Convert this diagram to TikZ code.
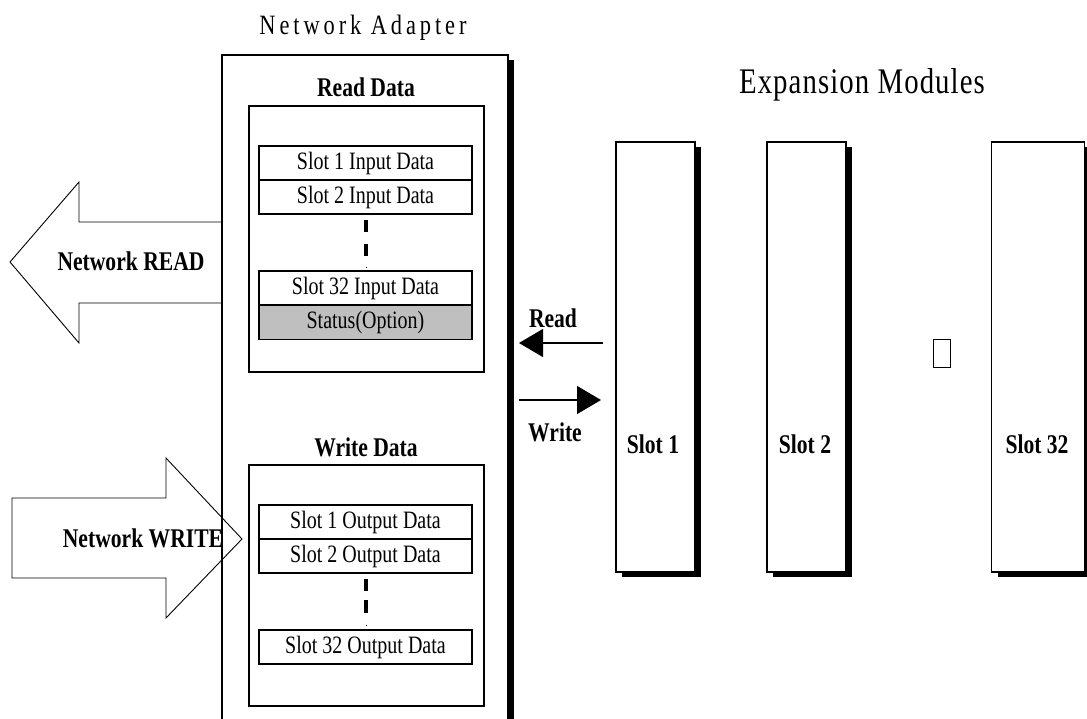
\documentclass[tikz,border=0pt]{standalone}
\usepackage{fontspec}
\setmainfont[FakeStretch=0.8]{Liberation Serif}
\usetikzlibrary{arrows.meta,shadows}
\begin{document}
\begin{tikzpicture}[x=1pt,y=-1pt,
  thinline/.style={line width=1.1pt},
  rowbox/.style={draw,thinline,minimum width=213pt,minimum height=34pt,inner sep=0pt,font=\fontsize{25}{27}\selectfont},
  groupbox/.style={draw,thinline,minimum width=235pt,inner sep=0pt},
  slotbox/.style={draw,thinline,fill=white,inner sep=0pt,minimum height=430pt,
    general shadow={fill=black,shadow xshift=6pt,shadow yshift=-5pt}},
  boldlbl/.style={font=\fontsize{27}{29}\selectfont\bfseries,inner sep=0pt},
  dotseg/.style={line width=4pt},
  smallarrow/.style={line width=1.2pt,-{Triangle[length=24pt,width=28pt]}},
  bigarrow/.style={line width=0.9pt,line join=miter}
]
\useasboundingbox (0,0) rectangle (1087,718);
\fill[white] (0,0) rectangle (1087,718);

% Network adapter outer box with shadow
\fill[black] (508,60) rectangle (514,730);
\draw[line width=1.3pt] (222,740) -- (222,55) -- (508,55) -- (508,740);
\node[font=\fontsize{28}{30}\selectfont,inner sep=0pt] (natitle) at (363,28) {\addfontfeature{LetterSpace=14}Network Adapter};

% Read data group
\node[boldlbl] (rdlbl) at (366,87) {Read Data};
\node[groupbox,minimum height=266pt] (rdgrp) at (366.5,239) {};
\node[rowbox] (r1) at (365.5,163) {Slot 1 Input Data};
\node[rowbox] (r2) at (365.5,197) {Slot 2 Input Data};
\draw[dotseg] (366,220) -- (366,232);
\draw[dotseg] (366,244) -- (366,256);
\draw[line width=1pt] (366,266.5) -- (366,268);
\node[rowbox] (r32) at (365.5,288) {Slot 32 Input Data};
\node[rowbox,fill=black!25] (rst) at (365.5,322.5) {Status(Option)};

% Write data group
\node[boldlbl] (wrlbl) at (366,447) {Write Data};
\node[groupbox,minimum height=241pt] (wrgrp) at (366.5,585.5) {};
\node[rowbox] (w1) at (365.5,522) {Slot 1 Output Data};
\node[rowbox] (w2) at (365.5,556) {Slot 2 Output Data};
\draw[dotseg] (366,579) -- (366,591);
\draw[dotseg] (366,600) -- (366,613);
\draw[line width=1pt] (366,624.5) -- (366,626);
\node[rowbox] (w32) at (365.5,647) {Slot 32 Output Data};

% Network READ big arrow
\draw[bigarrow] (222,222) -- (79,222) -- (79,182) -- (10,262) -- (79,343) -- (79,303) -- (222,303);
\node[boldlbl] (nread) at (131,261) {Network READ};

% Network WRITE big arrow
\draw[bigarrow] (12,498) -- (166,498) -- (166,458) -- (242,539) -- (166,618) -- (166,578) -- (12,578) -- cycle;
\node[boldlbl] (nwrite) at (143,538) {Network WRITE};

% Expansion modules
\node[font=\fontsize{36}{38}\selectfont,inner sep=0pt] (emtitle) at (862,85) {\addfontfeature{LetterSpace=3}Expansion Modules};
\node[slotbox,minimum width=79pt] (s1) at (655.5,357) {};
\node[slotbox,minimum width=79pt] (s2) at (806.5,357) {};
\node[slotbox,minimum width=93pt] (s32) at (1038,357) {};
\node[boldlbl] (s1l) at (653,444) {Slot 1};
\node[boldlbl] (s2l) at (805,444) {Slot 2};
\node[boldlbl] (s32l) at (1037,444) {Slot 32};
\node[draw,line width=0.9pt,minimum width=17pt,minimum height=28pt,inner sep=0pt] (gap) at (942,353.5) {};

% Read / Write arrows
\coordinate (rdA) at (603,343);
\coordinate (rdB) at (519,343);
\coordinate (wrA) at (519,400);
\coordinate (wrB) at (601,400);
\draw[smallarrow] (rdA) -- (rdB);
\draw[smallarrow] (wrA) -- (wrB);
\node[boldlbl] (rdtxt) at (553,318) {Read};
\node[boldlbl] (wrtxt) at (555,432) {Write};
\end{tikzpicture}
\end{document}
